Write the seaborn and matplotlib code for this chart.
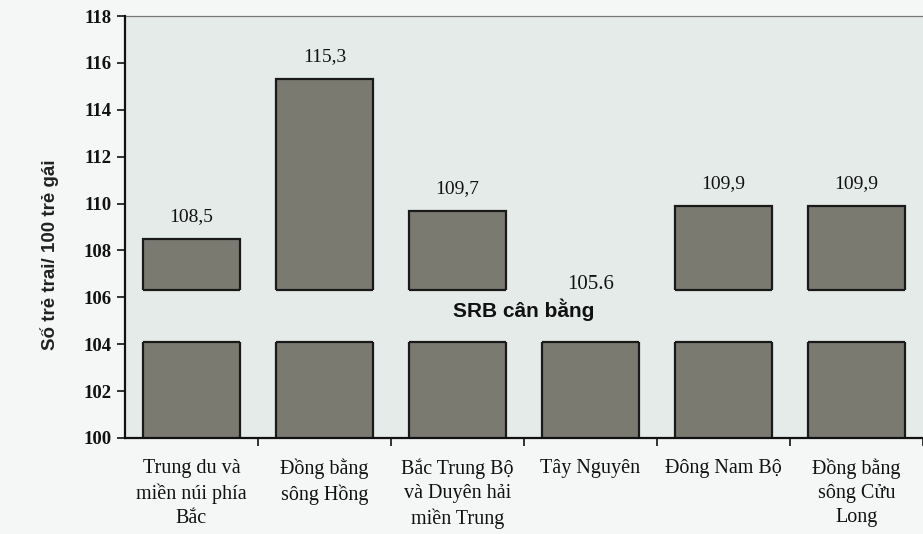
import matplotlib
matplotlib.use('Agg')
import matplotlib.pyplot as plt
import seaborn as sns

regions = ['Trung du và\nmiền núi phía\nBắc', 'Đồng bằng\nsông Hồng',
           'Bắc Trung Bộ\nvà Duyên hải\nmiền Trung', 'Tây Nguyên',
           'Đông Nam Bộ', 'Đồng bằng\nsông Cửu\nLong']
srb = [108.5, 115.3, 109.7, 105.6, 109.9, 109.9]
srb_labels = ['108,5', '115,3', '109,7', '105.6', '109,9', '109,9']
balance_band = [104.1, 106.3]
y_ticks = list(range(100, 119, 2))

BG = '#e5ebe8'
BAR = '#7a7a71'
EDGE = '#1a1a1a'
SERIF = ['Liberation Serif', 'DejaVu Serif']
SANS = ['Liberation Sans', 'DejaVu Sans']

sns.set_theme(style='white')
plt.rcParams['font.family'] = SERIF

fig = plt.figure(figsize=(9.23, 5.34), dpi=100, facecolor='#f5f7f6')
ax = fig.add_axes([0.1354, 0.18, 0.8646, 0.79])
ax.set_facecolor(BG)

sns.barplot(x=regions, y=srb, color=BAR, saturation=1, width=0.73,
            edgecolor=EDGE, linewidth=1.6, ax=ax)

# "balanced SRB" band cutting through all bars
ax.axhspan(balance_band[0], balance_band[1], facecolor=BG, edgecolor='none', zorder=5)
for p, v in zip(ax.patches, srb):
    x0, x1 = p.get_x(), p.get_x() + p.get_width()
    ax.hlines(balance_band[0], x0, x1, color=EDGE, linewidth=1.6, zorder=6)
    if v > balance_band[1]:
        ax.hlines(balance_band[1], x0, x1, color=EDGE, linewidth=1.6, zorder=6)

for i, (v, lbl) in enumerate(zip(srb, srb_labels)):
    ax.text(i, v + 0.95, lbl, ha='center', va='center',
            fontsize=15 if lbl == '105.6' else 14, color='#111', zorder=7)

ax.text(2.5, 105.45, 'SRB cân bằng', ha='center', va='center', family=SANS,
        weight='bold', fontsize=15, color='#111', zorder=7)

ax.set_xlim(-0.5, 5.455)
ax.set_ylim(100, 118)
ax.set_yticks(y_ticks)
ax.set_xticks(range(len(regions)))
ax.set_xticklabels(regions, fontsize=14.5, linespacing=1.35, color='#111')
ax.set_xticks([i + 0.5 for i in range(len(regions))], minor=True)
ax.tick_params(axis='x', which='major', length=0, pad=15)
ax.tick_params(axis='x', which='minor', length=6, width=1.2, color='#111', direction='out', bottom=True)
ax.tick_params(axis='y', length=6, width=1.2, color='#111', direction='out', left=True,
               labelsize=13.5, labelcolor='#111')
for t in ax.get_yticklabels():
    t.set_fontweight('bold')
ax.set_xlabel('')
ax.set_ylabel('Số trẻ trai/ 100 trẻ gái', family=SANS, weight='bold', fontsize=13.5, color='#222')
ax.yaxis.set_label_coords(-0.083, 0.434)

ax.spines['left'].set_color('#111')
ax.spines['left'].set_linewidth(1.6)
ax.spines['left'].set_zorder(6)
ax.spines['bottom'].set_color('#111')
ax.spines['bottom'].set_linewidth(1.6)
ax.spines['top'].set_color('#777')
ax.spines['top'].set_linewidth(0.9)
ax.spines['right'].set_visible(False)

fig.savefig('out.png', dpi=100, facecolor=fig.get_facecolor())
